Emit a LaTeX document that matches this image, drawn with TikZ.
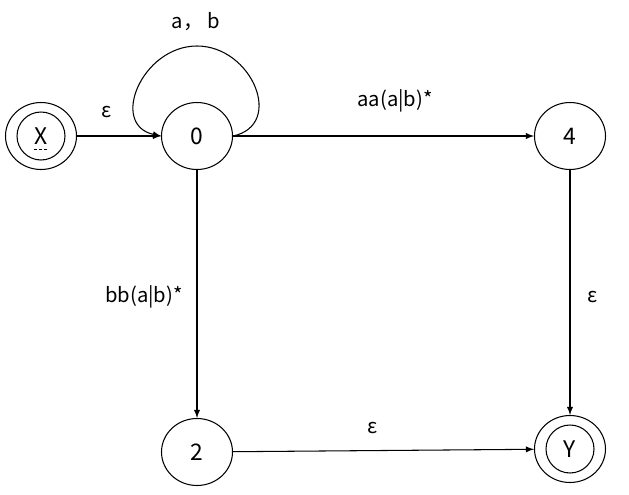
\documentclass[tikz,border=0pt]{standalone}
\usepackage{fontspec}
\setmainfont{Noto Sans CJK SC}
\usepackage{tikz}
\usetikzlibrary{arrows, shapes.geometric}

\begin{document}
\begin{tikzpicture}[
        x=0.02cm, y=-0.02cm,
        state/.style={
            ellipse,
            draw=black,
            line width=0.6pt,
            minimum width=1.42cm,
            minimum height=1.34cm,
            inner sep=0pt,
            font=\fontsize{13}{15}\selectfont
        },
        ring/.style={
            ellipse,
            draw=black,
            line width=0.6pt,
            minimum width=0.96cm,
            minimum height=0.96cm
        },
        lbl/.style={
            font=\fontsize{11.5}{13}\selectfont,
            inner sep=0pt
        },
        edge/.style={
            ->,
            >=latex,
            line width=0.6pt,
            black
        }
    ]
    \useasboundingbox (0,0) rectangle (629,494);

    % States
    \node[state] (x)  at (41,136)  {X};
    \node[state] (s0) at (197,136) {0};
    \node[state] (s4) at (570,136) {4};
    \node[state] (s2) at (197,452) {2};
    \node[state] (y)  at (570,449) {Y};

    % inner rings of start and end
    \node[ring] (xin) at (x) {};
    \node[ring] (yin) at (y) {};
    \draw[dashed, line width=0.5pt, dash pattern=on 2pt off 1pt] ([xshift=-0.15cm, yshift=-0.26cm]x.center) -- ([xshift=0.13cm, yshift=-0.26cm]x.center);

    % Transitions
    \draw[edge] (x) -- (s0);
    \draw[edge] (s0) -- (s4);
    \draw[edge] (s0) -- (s2);
    \draw[edge] (s4) -- (y);
    \draw[edge] (s2) -- (y);

    % loop on 0
    \coordinate (looptop) at (197,46);
    \draw[edge] (s0.east) .. controls (285,125) and (252,46) .. (looptop)
        .. controls (142,46) and (109,125) .. (s0.west);

    % Labels
    \node[lbl] (lloop) at (196,22)  {a， b};
    \node[lbl] (lxe)   at (107,112) {ε};
    \node[lbl] (l04)   at (395,101) {aa(a|b)*};
    \node[lbl] (l02)   at (144,297) {bb(a|b)*};
    \node[lbl] (l4y)   at (593,297) {ε};
    \node[lbl] (l2y)   at (373,428) {ε};

\end{tikzpicture}
\end{document}
